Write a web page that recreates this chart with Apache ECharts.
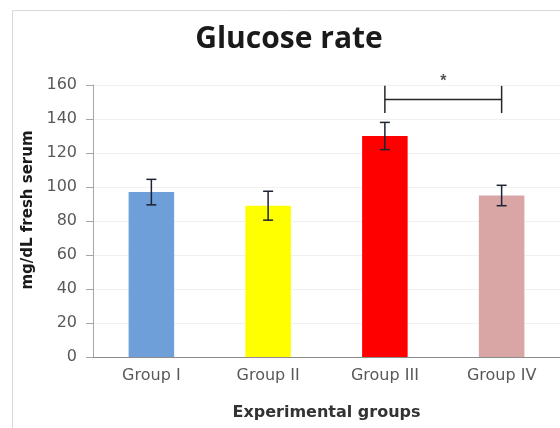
<!DOCTYPE html>
<html><head><meta charset="utf-8">
<script src="https://cdn.jsdelivr.net/npm/echarts@6/dist/echarts.min.js"></script>
<style>html,body{margin:0;padding:0;background:#fff}#c{width:560px;height:428px}</style>
</head><body><div id="c"></div>
<script>
var categories = ['Group I', 'Group II', 'Group III', 'Group IV'];
var means = [97, 89, 130, 95];
var errors = [7.5, 8.5, 8, 6];
var barColors = ['#6f9fd9', '#ffff00', '#ff0000', '#d9a5a5'];
var yTicks = [0, 20, 40, 60, 80, 100, 120, 140, 160];
var bracket = { from: 2, to: 3, level: 151.5, tickTop: 159.5, tickBottom: 143.5, label: '*' };

var chart = echarts.init(document.getElementById('c'), null, { renderer: 'canvas' });
var wide = '"DejaVu Sans", Verdana, sans-serif';
chart.setOption({
  animation: false,
  backgroundColor: '#fff',
  graphic: [{ type: 'rect', shape: { x: 12.5, y: 10.5, width: 600, height: 500 }, style: { fill: 'none', stroke: '#d9d9d9', lineWidth: 1 }, z: -10 }],
  title: {
    text: 'Glucose rate', left: 284, top: 19, textAlign: 'center',
    textStyle: { fontFamily: '"Open Sans", sans-serif', fontWeight: 'bold', fontSize: 30, color: '#1a1a1a' }
  },
  grid: { left: 93, right: -1, top: 85, bottom: 71 },
  xAxis: {
    type: 'category', data: categories,
    name: 'Experimental groups', nameLocation: 'middle', nameGap: 48,
    nameTextStyle: { fontFamily: wide, fontWeight: 'bold', fontSize: 16, color: '#333' },
    axisLine: { lineStyle: { color: '#8c8c8c', width: 1 } },
    axisTick: { show: false },
    axisLabel: { fontFamily: wide, fontSize: 16, color: '#595959', margin: 11 }
  },
  yAxis: {
    type: 'value', min: 0, max: 160, interval: 20,
    name: 'mg/dL fresh serum', nameLocation: 'middle', nameGap: 56, nameRotate: 90,
    nameTextStyle: { fontFamily: wide, fontWeight: 'bold', fontSize: 15, color: '#1a1a1a', padding: [0, 0, 0, 22] },
    axisLine: { show: true, lineStyle: { color: '#a6a6a6' } },
    axisTick: { show: true, length: 7, lineStyle: { color: '#a6a6a6' } },
    axisLabel: { fontFamily: wide, fontSize: 16, color: '#595959', margin: 16,
      formatter: function (v) { return yTicks.indexOf(v) >= 0 ? String(v) : ''; } },
    splitLine: { lineStyle: { color: '#f0f0f0' } }
  },
  series: [
    {
      type: 'bar', barWidth: '39%',
      data: means.map(function (v, i) { return { value: v, itemStyle: { color: barColors[i] } }; })
    },
    {
      type: 'custom',
      data: means.map(function (v, i) { return [i, v - errors[i], v + errors[i]]; }),
      renderItem: function (params, api) {
        var lo = api.coord([api.value(0), api.value(1)]);
        var hi = api.coord([api.value(0), api.value(2)]);
        var hw = 5;
        var st = { stroke: '#1c2333', lineWidth: 1.5 };
        return { type: 'group', children: [
          { type: 'line', shape: { x1: hi[0], y1: hi[1], x2: lo[0], y2: lo[1] }, style: st },
          { type: 'line', shape: { x1: hi[0] - hw, y1: hi[1], x2: hi[0] + hw, y2: hi[1] }, style: st },
          { type: 'line', shape: { x1: lo[0] - hw, y1: lo[1], x2: lo[0] + hw, y2: lo[1] }, style: st }
        ] };
      },
      z: 5
    },
    {
      type: 'custom', clip: false,
      data: [[bracket.from, bracket.to, bracket.level, bracket.tickTop, bracket.tickBottom]],
      renderItem: function (params, api) {
        var a = api.coord([api.value(0), api.value(2)]);
        var b = api.coord([api.value(1), api.value(2)]);
        var t = api.coord([api.value(0), api.value(3)])[1];
        var bt = api.coord([api.value(0), api.value(4)])[1];
        var st = { stroke: '#262626', lineWidth: 1.5 };
        return { type: 'group', children: [
          { type: 'line', shape: { x1: a[0], y1: a[1], x2: b[0], y2: b[1] }, style: st },
          { type: 'line', shape: { x1: a[0], y1: t, x2: a[0], y2: bt }, style: st },
          { type: 'line', shape: { x1: b[0], y1: t, x2: b[0], y2: bt }, style: st },
          { type: 'text', style: { x: (a[0] + b[0]) / 2, y: t - 4, text: bracket.label, fill: '#555',
            font: 'bold 16px Arial', align: 'center', verticalAlign: 'middle' } }
        ] };
      },
      z: 6
    }
  ]
});
</script></body></html>
